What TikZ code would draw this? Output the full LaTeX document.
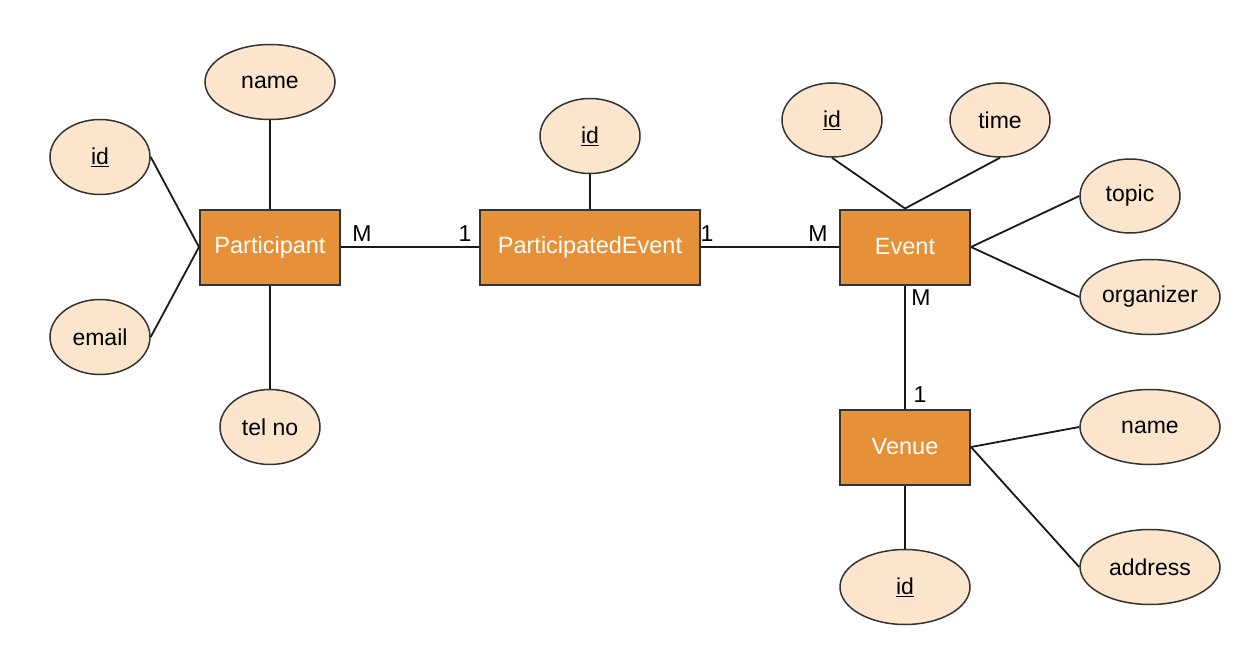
\documentclass[tikz,border=0pt]{standalone}
\usepackage{fontspec}
\setmainfont{Liberation Sans}
\usetikzlibrary{shapes.geometric}
\definecolor{entfill}{HTML}{E69138}
\definecolor{attfill}{HTML}{FCE5CD}
\definecolor{edgecol}{HTML}{333333}
\begin{document}
\begin{tikzpicture}[x=1pt,y=-1pt,
  entity/.style={rectangle,draw=edgecol,fill=entfill,line width=2pt,text=white,font=\fontsize{23.5}{27}\selectfont,inner sep=0pt},
  attr/.style={ellipse,draw=edgecol,fill=attfill,line width=1.5pt,font=\fontsize{23}{27}\selectfont,inner sep=0pt},
  card/.style={font=\fontsize{23}{27}\selectfont,inner sep=0pt},
  conn/.style={draw=black!90,line width=1.8pt}]
\useasboundingbox (0,0) rectangle (1240,645);
% entities
\node[entity,minimum width=140pt,minimum height=75pt] (part) at (270,247) {Participant};
\node[entity,minimum width=220pt,minimum height=75pt] (pe) at (590,247) {ParticipatedEvent};
\node[entity,minimum width=130pt,minimum height=75pt] (ev) at (905,247) {Event};
\node[entity,minimum width=130pt,minimum height=75pt] (ven) at (905,447) {Venue};
% attributes
\node[attr,minimum width=130pt,minimum height=75pt] (pname) at (270,82) {name};
\node[attr,minimum width=100pt,minimum height=75pt] (pid) at (100,157) {\underline{id}};
\node[attr,minimum width=100pt,minimum height=75pt] (pemail) at (100,337) {email};
\node[attr,minimum width=100pt,minimum height=75pt] (ptel) at (270,427) {tel no};
\node[attr,minimum width=100pt,minimum height=75pt] (peid) at (590,136) {\underline{id}};
\node[attr,minimum width=100pt,minimum height=74pt] (eid) at (832,120) {\underline{id}};
\node[attr,minimum width=100pt,minimum height=74pt] (etime) at (1000,120) {time};
\node[attr,minimum width=100pt,minimum height=74pt] (etopic) at (1130,196) {topic};
\node[attr,minimum width=140pt,minimum height=75pt] (eorg) at (1150,297) {organizer};
\node[attr,minimum width=140pt,minimum height=75pt] (vname) at (1150,427) {name};
\node[attr,minimum width=140pt,minimum height=75pt] (vaddr) at (1150,567) {address};
\node[attr,minimum width=130pt,minimum height=75pt] (vid) at (905,587) {\underline{id}};
% cardinalities
\node[card] (c1) at (362,234) {M};
\node[card] (c2) at (465,234) {1};
\node[card] (c3) at (707,234) {1};
\node[card] (c4) at (818,234) {M};
\node[card] (c5) at (921,298) {M};
\node[card] (c6) at (920,395) {1};
% connectors
\draw[conn] (part.east) -- (pe.west);
\draw[conn] (pe.east) -- (ev.west);
\draw[conn] (ev.south) -- (ven.north);
\draw[conn] (pname.south) -- (part.north);
\draw[conn] (pid.east) -- (part.west);
\draw[conn] (pemail.east) -- (part.west);
\draw[conn] (ptel.north) -- (part.south);
\draw[conn] (peid.south) -- (pe.north);
\draw[conn] (eid.south) -- (ev.north);
\draw[conn] (etime.south) -- (ev.north);
\draw[conn] (etopic.west) -- (ev.east);
\draw[conn] (eorg.west) -- (ev.east);
\draw[conn] (vname.west) -- (ven.east);
\draw[conn] (vaddr.west) -- (ven.east);
\draw[conn] (vid.north) -- (ven.south);
\end{tikzpicture}
\end{document}
